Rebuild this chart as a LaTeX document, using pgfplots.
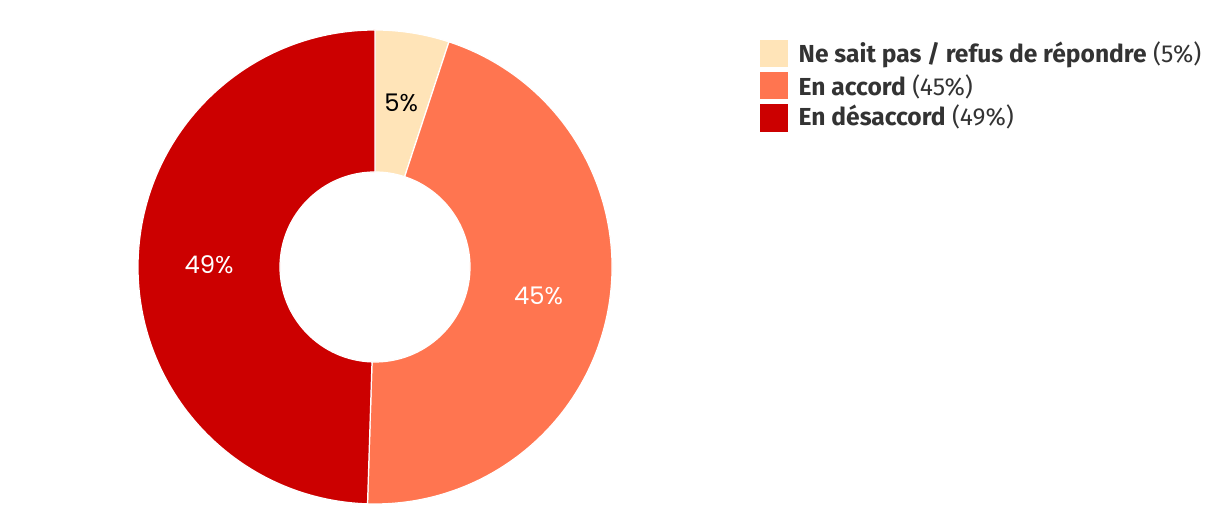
\documentclass[border=0pt]{standalone}
\usepackage{pgfplots}
\usepackage{pgfplotstable}
\pgfplotsset{compat=1.18}
\usepackage{fontspec}
\setmainfont{Fira Sans}
\newfontfamily\labelfont{Poppins}

\definecolor{cNsp}{HTML}{FFE4B8}
\definecolor{cAcc}{HTML}{FF7550}
\definecolor{cDes}{HTML}{CC0000}
\definecolor{txt}{HTML}{333333}

% shares, clockwise from the top
\pgfplotstableread[col sep=comma]{
label,value
Ne sait pas / refus de répondre,5
En accord,45
En désaccord,49
}\donut

% one ring slice: start angle, end angle, colour
\newcommand\slice[3]{%
  \fill[#3, draw=white, line width=0.35pt]
    ([shift={(#1:2.37cm)}]axis cs:375,247)
    arc[start angle=#1, end angle=#2, radius=2.37cm]
    -- ([shift={(#2:0.95cm)}]axis cs:375,247)
    arc[start angle=#2, end angle=#1, radius=0.95cm] -- cycle;}

\begin{document}
\begin{tikzpicture}
\pgfplotstablegetelem{0}{value}\of\donut\let\va\pgfplotsretval
\pgfplotstablegetelem{1}{value}\of\donut\let\vb\pgfplotsretval
\pgfplotstablegetelem{2}{value}\of\donut\let\vc\pgfplotsretval
\pgfmathsetmacro\tot{\va+\vb+\vc}
\pgfmathsetmacro\aA{90}
\pgfmathsetmacro\aB{90-\va/\tot*360}
\pgfmathsetmacro\aC{\aB-\vb/\tot*360}
\pgfmathsetmacro\aD{-270}
\pgfmathsetmacro\mA{(\aA+\aB)/2}
\pgfmathsetmacro\mB{(\aB+\aC)/2}
\pgfmathsetmacro\mC{(\aC+\aD)/2}
\begin{axis}[
    width=12.2cm, height=5.14cm,
    scale only axis,
    xmin=0, xmax=1220, ymin=0, ymax=514,
    hide axis,
    clip=false,
]
\coordinate (bl) at (axis cs:0,0);
\coordinate (tr) at (axis cs:1220,514);
\slice{\aA}{\aB}{cNsp}
\slice{\aB}{\aC}{cAcc}
\slice{\aC}{\aD}{cDes}

\tikzset{plab/.style={font=\labelfont\fontsize{6.9}{8}\selectfont, inner sep=0pt}}
\node[plab, text=black] at ([shift={(\mA:1.66cm)}]axis cs:375,247) {\va\%};
\node[plab, text=white] at ([shift={(\mB:1.66cm)}]axis cs:375,247) {\vb\%};
\node[plab, text=white] at ([shift={(\mC:1.66cm)}]axis cs:375,247) {\vc\%};

% legend
\fill[cNsp] (axis cs:760,474) rectangle (axis cs:788,447);
\fill[cAcc] (axis cs:760,442) rectangle (axis cs:788,415);
\fill[cDes] (axis cs:760,410) rectangle (axis cs:788,382);
\tikzset{leg/.style={anchor=base west, inner sep=0pt, text=txt, font=\fontsize{7}{8}\selectfont}}
\node[leg] at (axis cs:798,451) {\textbf{Ne sait pas / refus de répondre} (\va\%)};
\node[leg] at (axis cs:798,418.5) {\textbf{En accord} (\vb\%)};
\node[leg] at (axis cs:798,388) {\textbf{En désaccord} (\vc\%)};
\end{axis}
\pgfresetboundingbox
\path (bl) rectangle (tr);
\end{tikzpicture}
\end{document}
